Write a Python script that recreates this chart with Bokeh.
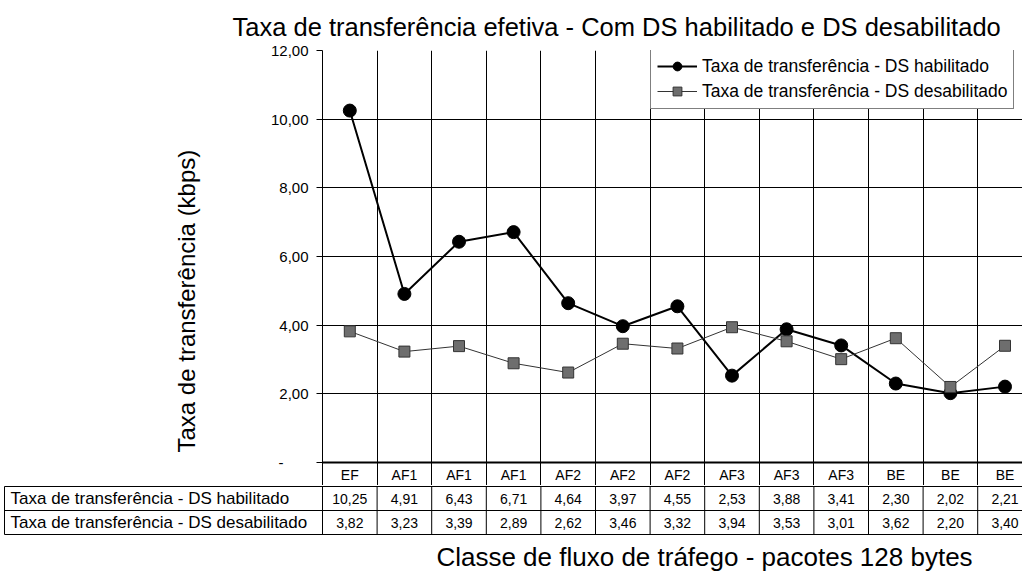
from bokeh.plotting import figure
from bokeh.layouts import column
from bokeh.models import FixedTicker, Span, Legend, LegendItem, ColumnDataSource, Title, Range1d
from bokeh.embed import file_html
from bokeh.resources import INLINE
from bokeh.core.properties import value

# ---------------- data ----------------
categories = ["EF", "AF1", "AF1", "AF1", "AF2", "AF2", "AF2", "AF3", "AF3", "AF3", "BE", "BE", "BE"]
ds_on = [10.25, 4.91, 6.43, 6.71, 4.64, 3.97, 4.55, 2.53, 3.88, 3.41, 2.30, 2.02, 2.21]
ds_off = [3.82, 3.23, 3.39, 2.89, 2.62, 3.46, 3.32, 3.94, 3.53, 3.01, 3.62, 2.20, 3.40]
series_names = ["Taxa de transferência - DS habilitado", "Taxa de transferência - DS desabilitado"]
y_ticks = [0, 2, 4, 6, 8, 10, 12]
title_text = "Taxa de transferência efetiva - Com DS habilitado e  DS desabilitado"
y_title = "Taxa de transferência  (kbps)"
x_title = "Classe de fluxo de tráfego - pacotes 128 bytes"


def fmt(v):
    return f"{v:.2f}".replace(".", ",")


FONT = "Liberation Sans"

# ---------------- layout (page pixels) ----------------
W = 1022
TOP_H = 485          # top figure: title, chart and header row
BOT_H = 90           # bottom figure: data table rows and x title
FRAME_L = 322
FRAME_T = 50
ZERO_Y = 462
ROW_H = 24
COL_W = 54.6
PX_PER_UNIT = (ZERO_Y - FRAME_T) / max(y_ticks)

n = len(categories)
idx = list(range(n))
x_start = -0.5
x_end = x_start + (W - FRAME_L) / COL_W


def px_to_x(px):
    return x_start + (px - FRAME_L) / COL_W


def py_to_y(py):
    return (ZERO_Y - py) / PX_PER_UNIT


# ================= top figure =================
p = figure(width=W, height=TOP_H, x_range=(x_start, x_end),
           y_range=(py_to_y(TOP_H), max(y_ticks)),
           output_backend="svg", toolbar_location=None, x_axis_location=None,
           min_border_left=FRAME_L, min_border_right=0,
           min_border_top=FRAME_T, min_border_bottom=0, frame_align=False)
p.outline_line_color = None
p.background_fill_color = "white"
p.border_fill_color = "white"

p.title.text = title_text
p.title.text_font = FONT
p.title.text_font_size = "25.5px"
p.title.text_font_style = "normal"
p.title.text_color = "black"
p.title.align = "left"
p.title.offset = 232 - FRAME_L
p.title.standoff = 20

p.xgrid.ticker = FixedTicker(ticks=[i - 0.5 for i in range(n + 1)])
p.xgrid.grid_line_color = "black"
p.ygrid.ticker = FixedTicker(ticks=y_ticks[1:])
p.ygrid.grid_line_color = "black"

p.yaxis.ticker = FixedTicker(ticks=y_ticks)
p.yaxis.major_label_overrides = {t: (fmt(t) if t else "-" + "\u00a0" * 6) for t in y_ticks}
p.yaxis.major_tick_in = 0
p.yaxis.major_tick_out = 6
p.yaxis.minor_tick_line_color = None
p.yaxis.axis_line_color = "black"
p.yaxis.major_label_text_font = FONT
p.yaxis.major_label_text_font_size = "15px"
p.yaxis.major_label_text_color = "black"
p.yaxis.major_label_standoff = 8

p.add_layout(Title(text=y_title, align="left", offset=485 - 452, standoff=135,
                   text_font=FONT, text_font_size="24px", text_font_style="normal",
                   text_color="black"), "left")

p.add_layout(Span(location=0, dimension="width", line_color="black", line_width=2))

r1l = p.line(idx, ds_on, line_color="black", line_width=2)
r1m = p.scatter(idx, ds_on, marker="circle", size=13, fill_color="black", line_color="black")
r2l = p.line(idx, ds_off, line_color="#333333", line_width=1)
r2m = p.scatter(idx, ds_off, marker="square", size=11, fill_color="#6e6e6e", line_color="#333333")

legend = Legend(items=[LegendItem(label=series_names[0], renderers=[r1l, r1m]),
                       LegendItem(label=series_names[1], renderers=[r2l, r2m])],
                location=(650 - FRAME_L, TOP_H - 109))
legend.label_text_font = FONT
legend.label_text_font_size = "17.5px"
legend.label_text_color = "black"
legend.border_line_color = "black"
legend.border_line_width = 1
legend.background_fill_color = "white"
legend.background_fill_alpha = 1
legend.padding = 6
legend.spacing = 3
legend.margin = 0
legend.glyph_width = 40
legend.glyph_height = 22
legend.label_height = 22
legend.label_standoff = 5
p.add_layout(legend)

head = ColumnDataSource(dict(x=idx, cat=categories, y=[py_to_y(ZERO_Y + ROW_H / 2)] * n))
p.text(x="x", y="y", text="cat", source=head, text_align="center", text_baseline="middle",
       text_font=value(FONT), text_font_size="14px", text_color="black")

# ================= bottom figure (data table + x title) =================
q = figure(width=W, height=BOT_H, x_range=(px_to_x(0), px_to_x(W)),
           y_range=Range1d(BOT_H, 0),
           output_backend="svg", toolbar_location=None,
           x_axis_location=None, y_axis_location=None,
           min_border=0, frame_align=False)
q.outline_line_color = None
q.grid.visible = False
q.background_fill_color = "white"
q.border_fill_color = "white"

row_lines = [1 + k * ROW_H for k in range(3)]           # page y 486, 510, 534
row_mid = [1 + ROW_H / 2 + k * ROW_H for k in range(2)]
left_edge = px_to_x(4)
q.segment(x0=[left_edge] * 3, x1=[px_to_x(W)] * 3, y0=row_lines, y1=row_lines,
          line_color="black", line_width=1)
vx = [left_edge] + [i - 0.5 for i in range(n + 1)]
q.segment(x0=vx, x1=vx, y0=[row_lines[0]] * len(vx), y1=[row_lines[-1]] * len(vx),
          line_color="black", line_width=1)

tbl = ColumnDataSource(dict(x=idx, on=[fmt(v) for v in ds_on], off=[fmt(v) for v in ds_off],
                            y1=[row_mid[0]] * n, y2=[row_mid[1]] * n))
for col, ycol in (("on", "y1"), ("off", "y2")):
    q.text(x="x", y=ycol, text=col, source=tbl, text_align="center", text_baseline="middle",
           text_font=value(FONT), text_font_size="14px", text_color="black")
q.text(x=[px_to_x(10)] * 2, y=row_mid, text=series_names, text_align="left",
       text_baseline="middle", text_font=value(FONT), text_font_size="17px", text_color="black")

# x axis title
q.text(x=[px_to_x(704)], y=[556 - TOP_H], text=[x_title], text_align="center",
       text_baseline="middle", text_font=value(FONT), text_font_size="26px", text_color="black")

open("out.html", "w").write(file_html(column(p, q, spacing=0), INLINE))
